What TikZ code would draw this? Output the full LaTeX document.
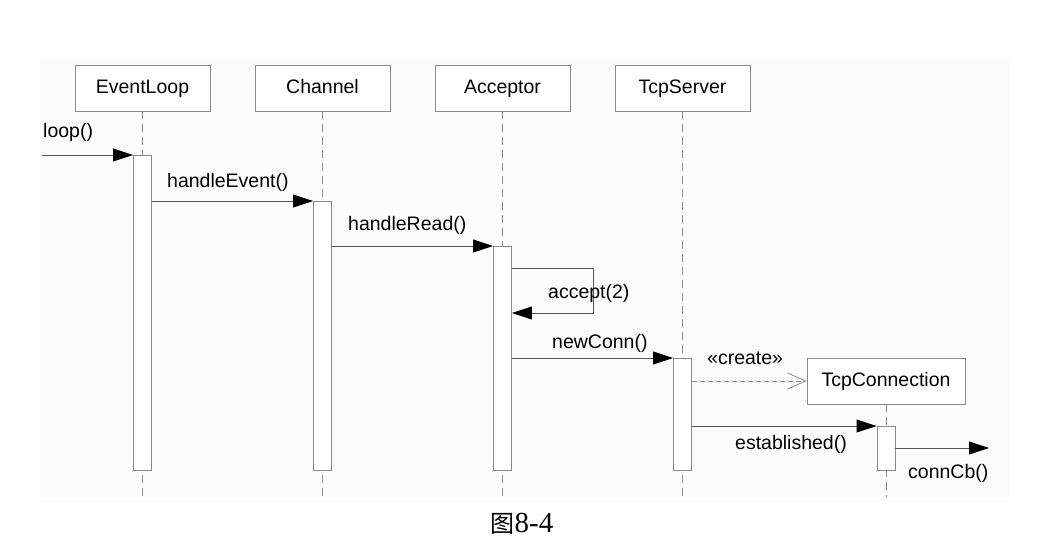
\documentclass[tikz,border=0pt]{standalone}
\usepackage{fontspec}
\setmainfont{Liberation Sans}
\newfontfamily\cjk{Noto Sans CJK SC}
\newfontfamily\capserif{Liberation Serif}
\usetikzlibrary{arrows.meta,calc}
\definecolor{linegray}{HTML}{555555}
\definecolor{boxgray}{HTML}{8A8A8A}
\definecolor{panel}{HTML}{FBFBFB}
\begin{document}
\begin{tikzpicture}[x=1pt,y=-1pt,
  obj/.style={draw=boxgray,fill=white,line width=0.9pt,minimum width=135pt,minimum height=46pt,
    inner sep=0pt,text height=14pt,text depth=4pt,font=\fontsize{19.5}{22}\selectfont},
  life/.style={draw=boxgray,line width=0.8pt,dash pattern=on 8pt off 5pt},
  act/.style={draw=boxgray,fill=white,line width=0.9pt,minimum width=18pt,inner sep=0pt,anchor=north},
  msg/.style={draw=linegray,line width=0.9pt,-{Triangle[length=20pt,width=13pt,black]}},
  create/.style={draw=boxgray,line width=0.8pt,dash pattern=on 5pt off 3pt,
    -{Straight Barb[length=18pt,width=16pt,line width=0.8pt]}},
  lbl/.style={font=\fontsize{19.5}{22}\selectfont,inner sep=0pt}]
\useasboundingbox (0,0) rectangle (1050,554);
\fill[panel] (40,60) rectangle (1010,497);

% participants
\node[obj] (el) at (142.5,88) {EventLoop};
\node[obj] (ch) at (322.5,88) {Channel};
\node[obj] (ac) at (502.5,88) {Acceptor};
\node[obj] (ts) at (682.5,88) {TcpServer};
\node[obj,minimum width=158pt] (tc) at (886,381) {TcpConnection};

% lifeline ends
\coordinate (elEnd) at (142.5,497);
\coordinate (chEnd) at (322.5,497);
\coordinate (acEnd) at (502.5,497);
\coordinate (tsEnd) at (682.5,497);
\coordinate (tcEnd) at (886,497);

\draw[life] (el.south) -- (elEnd);
\draw[life] (ch.south) -- (chEnd);
\draw[life] (ac.south) -- (acEnd);
\draw[life] (ts.south) -- (tsEnd);
\draw[life] (tc.south) -- (tcEnd);

% activation bars
\node[act,minimum height=315pt] (elA) at (142.5,155) {};
\node[act,minimum height=269pt] (chA) at (322.5,201) {};
\node[act,minimum height=224pt] (acA) at (502.5,246) {};
\node[act,minimum height=112pt] (tsA) at (682.5,358) {};
\node[act,minimum height=44pt]  (tcA) at (886,426) {};

% messages
\coordinate (start) at (42,155);
\coordinate (cbEnd) at (989,448);
\draw[msg] (start) -- (elA.north west);
\node[lbl,anchor=base west] (lLoop) at (43,137) {loop()};

\draw[msg] (elA.east |- chA.north) -- (chA.north west);
\node[lbl,anchor=base west] (lEvent) at (167,187) {handleEvent()};

\draw[msg] (chA.east |- acA.north) -- (acA.north west);
\node[lbl,anchor=base west] (lRead) at (348,230) {handleRead()};

\coordinate (selfA) at ($(acA.north east)+(0,22)$);
\coordinate (selfB) at ($(acA.north east)+(81,22)$);
\coordinate (selfC) at ($(acA.north east)+(81,67)$);
\coordinate (selfD) at ($(acA.north east)+(0,67)$);
\draw[msg] (selfA) -- (selfB) -- (selfC) -- (selfD);
\node[lbl,anchor=base west] (lAccept) at (548,298) {accept(2)};

\draw[msg] (acA.east |- tsA.north) -- (tsA.north west);
\node[lbl,anchor=base west] (lNew) at (552,348) {newConn()};

\draw[create] (tsA.east |- tc.west) -- (tc.west);
\node[lbl,anchor=base west] (lCreate) at (707,364) {«create»};

\draw[msg] (tsA.east |- tcA.north) -- (tcA.north west);
\node[lbl,anchor=base west] (lEst) at (735,449) {established()};

\draw[msg] ($(tcA.north east)+(0,22)$) -- (cbEnd);
\node[lbl,anchor=base west] (lCb) at (908,478) {connCb()};

% caption
\node[inner sep=0pt,anchor=base] (cap) at (522,532)
  {{\cjk\fontsize{24}{26}\selectfont 图}{\capserif\fontsize{29}{30}\selectfont 8-4}};
\end{tikzpicture}
\end{document}
